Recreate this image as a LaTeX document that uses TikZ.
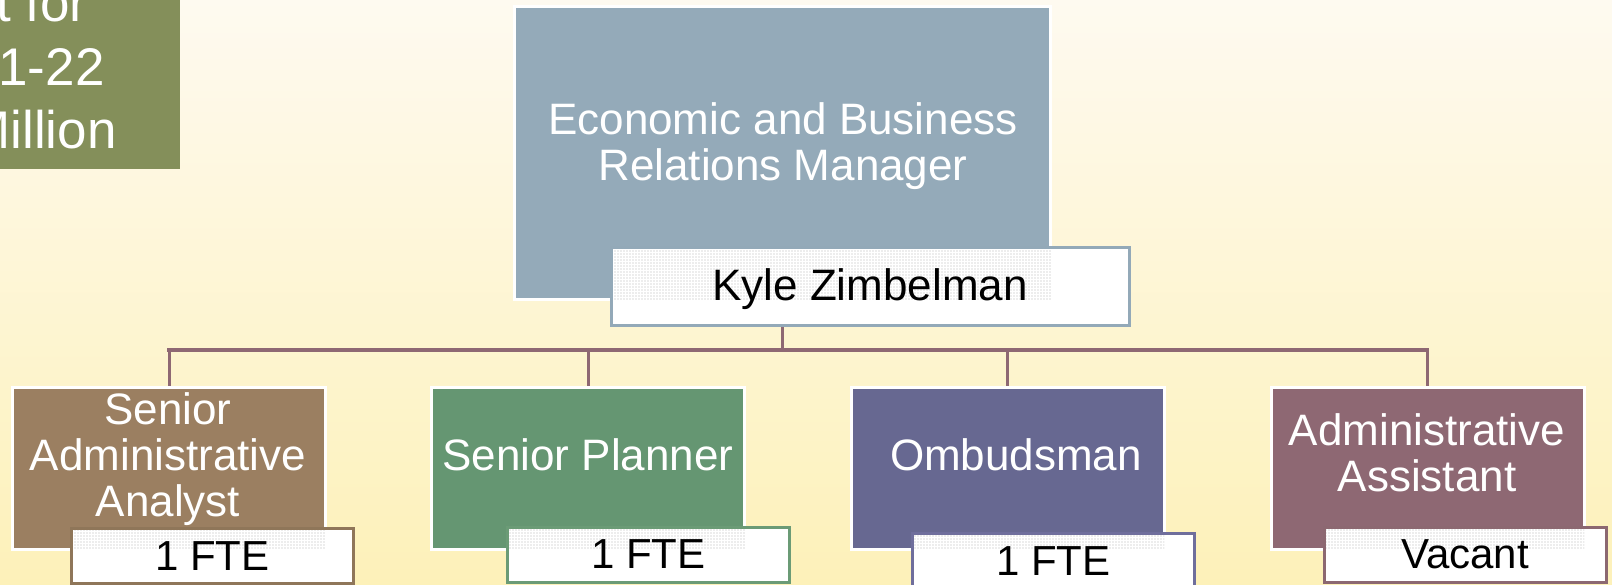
\documentclass[tikz,border=0pt]{standalone}
\usepackage{fontspec}
\setmainfont{Liberation Sans}
\usetikzlibrary{patterns.meta}
\definecolor{bgtop}{HTML}{FEFAF0}
\definecolor{bgbot}{HTML}{FDF1B9}
\definecolor{olive}{HTML}{848F5A}
\definecolor{steel}{HTML}{94AAB9}
\definecolor{steelline}{HTML}{93A9B8}
\definecolor{brownbox}{HTML}{9B7F61}
\definecolor{brownline}{HTML}{8F7659}
\definecolor{greenbox}{HTML}{659672}
\definecolor{greenline}{HTML}{6B9B76}
\definecolor{purplebox}{HTML}{676891}
\definecolor{purpleline}{HTML}{6F6E9C}
\definecolor{mauvebox}{HTML}{8E6873}
\definecolor{mauveline}{HTML}{8C6871}
\definecolor{linec}{HTML}{8E6873}
\pgfdeclarelayer{back}
\pgfdeclarelayer{mid}
\pgfsetlayers{back,mid,main}
\begin{document}
\begin{tikzpicture}[x=0.5pt,y=-0.5pt,
  rolebox/.style={fill=#1, draw=white, line width=1.5pt, minimum width=156.5pt, minimum height=81pt, inner sep=0pt, outer sep=0pt},
  roletext/.style={text=white, font=\fontsize{22}{23}\selectfont, align=center, inner sep=0pt},
  overlap/.style={pattern={Dots[distance=1.5pt, radius=0.35pt]}, pattern color=gray!60},
  tagbox/.style 2 args={fill=white, draw=#1, line width=1.5pt, minimum width=141pt, minimum height=27.5pt, inner sep=0pt, outer sep=0pt, text=black, font=\fontsize{21}{23}\selectfont, text height=15pt, text depth=1pt,
    path picture={\fill[overlap] (path picture bounding box.north west) rectangle (#2.south east);}},
  conn/.style={draw=linec, line width=1.5pt},
  busline/.style={draw=linec, line width=1.75pt, line cap=rect},
  gtext/.style={text=white, font=\fontsize{26.5}{31}\selectfont, inner sep=0pt, anchor=base east}
]
\useasboundingbox (0,0) rectangle (1612,584);
\clip (0,0) rectangle (1612,584);
\begin{pgfonlayer}{back}
\shade[top color=bgtop, bottom color=bgbot] (0,0) rectangle (1612,584);
\end{pgfonlayer}

% budget box (cut off at the top left)
\node[fill=olive, minimum width=100pt, minimum height=95pt, inner sep=0pt, anchor=south east] (budget) at (180,169) {};
\node[gtext] (g1) at (88,21) {t for};
\node[gtext] (g2) at (105,85) {1-22};
\node[gtext] (g3) at (117,148) {Million};

% manager
\node[rolebox=steel, minimum width=268pt, minimum height=146.5pt] (mgr) at (782.5,153) {};
\node[roletext] (mgrt) at (783,146) {Economic and Business\\Relations Manager};

% children
\node[rolebox=brownbox] (c1) at (169,468) {};
\node[roletext] (c1t) at (168,459.5) {Senior\\Administrative\\Analyst};
\node[rolebox=greenbox] (c2) at (588,468) {};
\node[roletext, anchor=base] (c2t) at (588,470) {Senior Planner};
\node[rolebox=purplebox] (c3) at (1007.5,468) {};
\node[roletext, anchor=base] (c3t) at (1016,470) {Ombudsman};
\node[rolebox=mauvebox] (c4) at (1427.5,468) {};
\node[roletext] (c4t) at (1427,453) {Administrative\\Assistant};

% connectors
\coordinate (bus) at (782.5,350);
\begin{pgfonlayer}{mid}
\draw[conn] (mgr.south) -- (mgr.south |- bus);
\draw[busline] (c1.north |- bus) -- (c4.north |- bus);
\foreach \c in {c1,c2,c3,c4} \draw[conn] (\c.north) -- (\c.north |- bus);
\end{pgfonlayer}

% name tags
\node[tagbox={steelline}{mgr}, minimum width=259pt, minimum height=39pt, font=\fontsize{22}{24}\selectfont] (kyle) at (870,286) {Kyle Zimbelman};
\node[tagbox={brownline}{c1}] (f1) at (212.5,556) {1 FTE};
\node[tagbox={greenline}{c2}] (f2) at (648.5,554.5) {1 FTE};
\node[tagbox={purpleline}{c3}] (f3) at (1053.5,561) {1 FTE};
\node[tagbox={mauveline}{c4}] (f4) at (1465,554.5) {Vacant};
\end{tikzpicture}
\end{document}
